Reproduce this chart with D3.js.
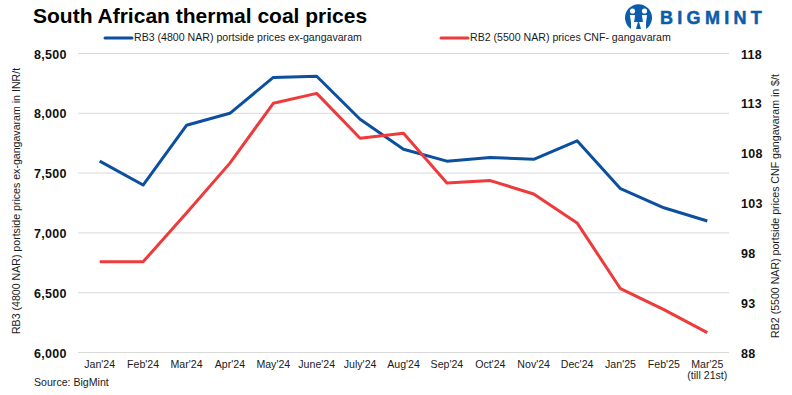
<!DOCTYPE html>
<html>
<head>
<meta charset="utf-8">
<script src="https://cdn.jsdelivr.net/npm/d3@7"></script>
<style>
    body { margin: 0; background: #fff; }
    text { font-family: "Liberation Sans", sans-serif; fill: #1a1a1a; }
    .title { font-size: 21px; font-weight: bold; fill: #000; }
    .tick-y { font-size: 12.5px; font-weight: bold; fill: #111; letter-spacing: 0.3px; }
    .tick-x { font-size: 10.6px; }
    .small { font-size: 10.6px; }
</style>
</head>
<body>
<svg id="chart" width="792" height="395"></svg>
<script>
const months = ["Jan'24", "Feb'24", "Mar'24", "Apr'24", "May'24", "June'24", "July'24", "Aug'24",
    "Sep'24", "Oct'24", "Nov'24", "Dec'24", "Jan'25", "Feb'25", "Mar'25"];
const rb3 = [7600, 7400, 7900, 8000, 8300, 8310, 7950, 7700, 7600, 7630, 7615, 7770, 7370, 7210, 7100];
const rb2 = [97.1, 97.1, 102, 107, 113, 114, 109.5, 110, 105, 105.25, 103.9, 101, 94.4, 92.3, 90];
const leftTicks = [6000, 6500, 7000, 7500, 8000, 8500];
const rightTicks = [88, 93, 98, 103, 108, 113, 118];

const blue = '#0b4f9e';
const red = '#ee3a3a';

const svg = d3.select('#chart');
const plot = {left: 78, right: 729, top: 53.5, bottom: 352.5};

const x = d3.scaleBand().domain(months).range([plot.left, plot.right]);
const yLeft = d3.scaleLinear().domain([6000, 8500]).range([plot.bottom, plot.top]);
const yRight = d3.scaleLinear().domain([88, 118]).range([plot.bottom, plot.top]);
const cx = d => x(d) + x.bandwidth() / 2;

// gridlines
svg.append('g').selectAll('line')
    .data(leftTicks)
    .join('line')
    .attr('x1', plot.left)
    .attr('x2', plot.right)
    .attr('y1', d => yLeft(d))
    .attr('y2', d => yLeft(d))
    .attr('stroke', '#d9d9d9')
    .attr('stroke-width', 1);

// tick labels
svg.append('g').selectAll('text')
    .data(leftTicks)
    .join('text')
    .attr('class', 'tick-y')
    .attr('x', 34)
    .attr('y', d => yLeft(d) + 5)
    .text(d3.format(','));

svg.append('g').selectAll('text')
    .data(rightTicks)
    .join('text')
    .attr('class', 'tick-y')
    .attr('x', 741)
    .attr('y', d => yRight(d) + 5)
    .text(d => d);

svg.append('g').selectAll('text')
    .data(months)
    .join('text')
    .attr('class', 'tick-x')
    .attr('x', d => cx(d))
    .attr('y', 368)
    .attr('text-anchor', 'middle')
    .text(d => d);

svg.append('text').attr('class', 'tick-x')
    .attr('x', cx("Mar'25"))
    .attr('y', 379)
    .attr('text-anchor', 'middle')
    .text('(till 21st)');

// lines
const drawLine = (values, scale, colour) => {
    const line = d3.line()
        .x((d, i) => cx(months[i]))
        .y(d => scale(d));
    svg.append('path')
        .datum(values)
        .attr('d', line)
        .attr('fill', 'none')
        .attr('stroke', colour)
        .attr('stroke-width', 3)
        .attr('stroke-linejoin', 'round');
};
drawLine(rb3, yLeft, blue);
drawLine(rb2, yRight, red);

// title, legend, source
svg.append('text').attr('class', 'title').attr('x', 33).attr('y', 23).text('South African thermal coal prices');

svg.append('line').attr('x1', 105).attr('x2', 132).attr('y1', 38).attr('y2', 38)
    .attr('stroke', blue).attr('stroke-width', 3).attr('stroke-linecap', 'round');
svg.append('text').attr('class', 'small').attr('x', 134).attr('y', 41)
    .text('RB3 (4800 NAR) portside prices ex-gangavaram');

svg.append('line').attr('x1', 441).attr('x2', 468).attr('y1', 38).attr('y2', 38)
    .attr('stroke', red).attr('stroke-width', 3).attr('stroke-linecap', 'round');
svg.append('text').attr('class', 'small').attr('x', 470).attr('y', 41)
    .text('RB2 (5500 NAR) prices CNF- gangavaram');

svg.append('text').attr('class', 'small').attr('x', 34).attr('y', 386).text('Source: BigMint');

// axis titles
svg.append('text').attr('class', 'small')
    .attr('transform', 'translate(20,201) rotate(-90)')
    .attr('text-anchor', 'middle')
    .text('RB3 (4800 NAR) portside prices ex-gangavaram in INR/t');

svg.append('text').attr('class', 'small')
    .attr('transform', 'translate(779,206) rotate(-90)')
    .attr('text-anchor', 'middle')
    .text('RB2 (5500 NAR) portside prices CNF gangavaram in $/t');

// logo
const logo = svg.append('g').attr('transform', 'translate(625,2)');
logo.append('path')
    .attr('d', 'M6,27 A13.5,13.5 0 1 1 21,27 L21,20 L6,20 Z')
    .attr('fill', '#0b5cab');
logo.append('path')
    .attr('d', 'M11,27 L13.5,18 L16,27 Z')
    .attr('fill', '#0b5cab');
[[7.5, 9], [19.5, 9]].forEach(p => {
    logo.append('circle').attr('cx', p[0]).attr('cy', p[1]).attr('r', 2.6).attr('fill', '#fff');
    logo.append('path')
        .attr('d', `M${p[0] - 2.6},13 L${p[0] + 2.6},13 L${p[0] + 1.3},22 L${p[0] - 1.3},22 Z`)
        .attr('fill', '#fff');
});
logo.append('text')
    .attr('x', 35).attr('y', 22)
    .attr('font-size', 18).attr('font-weight', 'bold')
    .attr('letter-spacing', 4.3)
    .style('fill', '#0b5cab')
    .style('stroke', '#0b5cab')
    .style('stroke-width', 0.5)
    .text('BIGMINT');
</script>
</body>
</html>
